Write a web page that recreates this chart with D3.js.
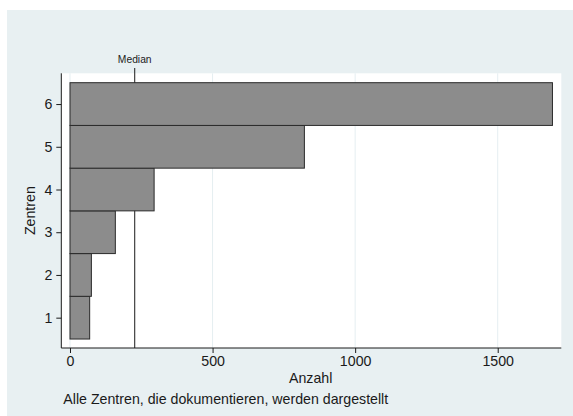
<!DOCTYPE html>
<html><head><meta charset="utf-8">
<script src="https://cdn.jsdelivr.net/npm/d3@7"></script>
<style>body{margin:0;background:#fff}svg{display:block;font-family:"Liberation Sans",Arial,Helvetica,sans-serif}</style>
</head><body>
<script>
const categories = [1, 2, 3, 4, 5, 6];
const counts = [69, 75, 159, 295, 822, 1692];
const medianValue = 227;
const xTicks = [0, 500, 1000, 1500];
const yTitle = "Zentren";
const xTitle = "Anzahl";
const note = "Alle Zentren, die dokumentieren, werden dargestellt";
const medianLabel = "Median";

const W = 573, H = 416;
const FS = 14.2;
const svg = d3.select("body").append("svg").attr("width", W).attr("height", H);
svg.append("rect").attr("x", 7).attr("y", 10).attr("width", W - 7).attr("height", H - 10).attr("fill", "#e8f0f2");

const x = d3.scaleLinear().domain([-30.5, 1723]).range([61.3, 561.3]);
const y = d3.scaleLinear().domain([0.29, 6.72]).range([348, 73.3]);

svg.append("rect").attr("x", x.range()[0]).attr("y", y.range()[1])
  .attr("width", x.range()[1] - x.range()[0]).attr("height", y.range()[0] - y.range()[1]).attr("fill", "#fff");

// grid
svg.append("g").selectAll("line").data(xTicks).join("line")
  .attr("x1", d => x(d)).attr("x2", d => x(d)).attr("y1", y.range()[1]).attr("y2", y.range()[0])
  .attr("stroke", "#e5eef1").attr("stroke-width", 1);

// median line (behind bars)
svg.append("line").attr("x1", x(medianValue)).attr("x2", x(medianValue))
  .attr("y1", 68).attr("y2", y.range()[0]).attr("stroke", "#1a1a1a").attr("stroke-width", 1);
svg.append("text").attr("x", x(medianValue)).attr("y", 62.5).attr("text-anchor", "middle")
  .attr("font-size", 10.3).attr("fill", "#222").text(medianLabel);

// bars
svg.append("g").selectAll("rect").data(categories).join("rect")
  .attr("x", x(0)).attr("y", (d) => y(d + 0.5))
  .attr("width", (d, i) => x(counts[i]) - x(0))
  .attr("height", d => y(d - 0.5) - y(d + 0.5))
  .attr("fill", "#8c8c8c").attr("stroke", "#2a2a2a").attr("stroke-width", 1);

// axes
const xAxis = svg.append("g").attr("transform", `translate(0,${y.range()[0]})`)
  .call(d3.axisBottom(x).tickValues(xTicks).tickSize(5).tickPadding(3).tickFormat(d3.format("d")));
const yAxis = svg.append("g").attr("transform", `translate(${x.range()[0]},0)`)
  .call(d3.axisLeft(y).tickValues(categories).tickSize(5).tickPadding(4).tickFormat(d3.format("d")));
[xAxis, yAxis].forEach(g => {
  g.select(".domain").attr("stroke", "#1a1a1a");
  g.selectAll(".tick line").attr("stroke", "#1a1a1a");
  g.selectAll("text").attr("font-size", FS).attr("fill", "#1a1a1a").attr("font-family", "Liberation Sans, Arial, sans-serif");
});
xAxis.select(".domain").attr("d", `M${x.range()[0]},0H${x.range()[1]}`);
yAxis.select(".domain").attr("d", `M0,${y.range()[0]}V${y.range()[1]}`);

svg.append("text").attr("x", 310.7).attr("y", 383.3).attr("text-anchor", "middle")
  .attr("font-size", FS).attr("fill", "#1a1a1a").text(xTitle);
svg.append("text").attr("transform", `translate(35,${(y.range()[0] + y.range()[1]) / 2}) rotate(-90)`)
  .attr("text-anchor", "middle").attr("font-size", FS).attr("fill", "#1a1a1a").text(yTitle);
svg.append("text").attr("x", 63.3).attr("y", 404).attr("font-size", FS).attr("fill", "#1a1a1a").text(note);
</script>
</body></html>
